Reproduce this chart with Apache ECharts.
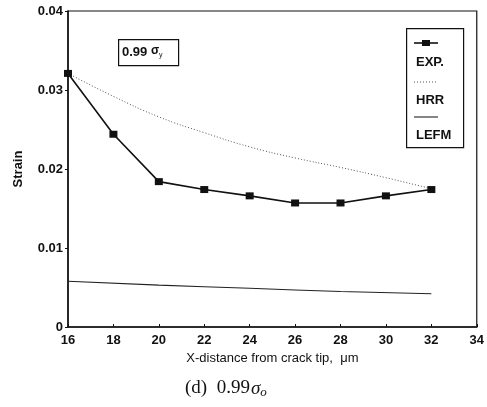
<!DOCTYPE html>
<html>
<head>
<meta charset="utf-8">
<script src="https://cdn.jsdelivr.net/npm/echarts@6/dist/echarts.min.js"></script>
<style>
  html, body { margin: 0; padding: 0; background: #fff; }
  #main { width: 487px; height: 407px; }
</style>
</head>
<body>
<div id="main"></div>
<script>
// x positions (distance from crack tip, um)
const xDist = [16, 18, 20, 22, 24, 26, 28, 30, 32];
// measured strain
const expStrain = [0.0321, 0.0244, 0.0184, 0.0174, 0.0166, 0.0157, 0.0157, 0.0166, 0.0174];
// HRR prediction
const hrrStrain = [0.0321, 0.0292, 0.0266, 0.0246, 0.0228, 0.0214, 0.0202, 0.0189, 0.0175];
// LEFM prediction
const lefmX = [16, 20, 24, 28, 32];
const lefmStrain = [0.0058, 0.0053, 0.0049, 0.0045, 0.0042];

const zip = (a, b) => a.map((v, i) => [v, b[i]]);
const font = 'Liberation Sans, Arial, sans-serif';
const serif = 'Liberation Serif, Times New Roman, serif';

const chart = echarts.init(document.getElementById('main'), null, { renderer: 'canvas' });

chart.setOption({
  animation: false,
  backgroundColor: '#fff',
  grid: {
    left: 68, right: 9, top: 11, bottom: 80,
    show: true, borderColor: '#111', borderWidth: 1.2
  },
  xAxis: {
    type: 'value', min: 16, max: 34, interval: 2,
    name: 'X-distance from crack tip,  μm',
    nameLocation: 'middle', nameGap: 25,
    nameTextStyle: { fontFamily: font, fontSize: 13, color: '#111' },
    axisLine: { lineStyle: { color: '#111', width: 1.5 } },
    axisTick: { inside: true, length: 3, lineStyle: { color: '#111' } },
    axisLabel: { fontFamily: font, fontSize: 13, fontWeight: 'bold', color: '#111', margin: 7 },
    splitLine: { show: false }
  },
  yAxis: {
    type: 'value', min: 0, max: 0.04, interval: 0.01,
    name: 'Strain',
    nameLocation: 'middle', nameGap: 43,
    nameTextStyle: { fontFamily: font, fontSize: 13, fontWeight: 'bold', color: '#111' },
    axisLine: { lineStyle: { color: '#111', width: 1.5 } },
    axisTick: { length: 3, lineStyle: { color: '#111' } },
    axisLabel: {
      fontFamily: font, fontSize: 13, fontWeight: 'bold', color: '#111', margin: 5,
      formatter: v => v === 0 ? '0' : v.toFixed(2)
    },
    splitLine: { show: false }
  },
  series: [
    {
      name: 'EXP.', type: 'line', data: zip(xDist, expStrain),
      symbol: 'rect', symbolSize: [8, 7],
      itemStyle: { color: '#111' },
      lineStyle: { color: '#111', width: 1.6 },
      z: 3
    },
    {
      name: 'HRR', type: 'line', data: zip(xDist, hrrStrain),
      smooth: true, showSymbol: false, symbol: 'none',
      lineStyle: { color: '#555', width: 1, type: [1, 2] }
    },
    {
      name: 'LEFM', type: 'line', data: zip(lefmX, lefmStrain),
      smooth: true, showSymbol: false, symbol: 'none',
      lineStyle: { color: '#222', width: 1.1 }
    }
  ],
  graphic: [
    // stress level box
    {
      type: 'rect', left: 118, top: 39,
      shape: { width: 60, height: 26 },
      style: { fill: '#fff', stroke: '#111', lineWidth: 1.2 }
    },
    {
      type: 'text', left: 122, top: 45,
      style: {
        text: '{a|0.99 }{s|σ}{y|y}',
        rich: {
          a: { fontFamily: font, fontSize: 13, fontWeight: 'bold', fill: '#111' },
          s: { fontFamily: font, fontSize: 12, fontWeight: 'bold', fill: '#111', padding: [0, 0, 3, 0] },
          y: { fontFamily: font, fontSize: 7, fill: '#111', padding: [6, 0, 0, 0] }
        }
      }
    },
    // legend box
    {
      type: 'rect', left: 406, top: 28,
      shape: { width: 57, height: 119 },
      style: { fill: '#fff', stroke: '#111', lineWidth: 1.2 }
    },
    { type: 'line', shape: { x1: 414, y1: 43, x2: 438, y2: 43 }, style: { stroke: '#111', lineWidth: 1.6 } },
    { type: 'rect', left: 422, top: 40, shape: { width: 8, height: 6 }, style: { fill: '#111' } },
    { type: 'text', left: 416, top: 56, style: { text: 'EXP.', fontFamily: font, fontSize: 13, fontWeight: 'bold', fill: '#111' } },
    { type: 'line', shape: { x1: 414, y1: 82, x2: 438, y2: 82 }, style: { stroke: '#555', lineWidth: 1, lineDash: [1, 2] } },
    { type: 'text', left: 416, top: 94, style: { text: 'HRR', fontFamily: font, fontSize: 13, fontWeight: 'bold', fill: '#111' } },
    { type: 'line', shape: { x1: 414, y1: 117, x2: 438, y2: 117 }, style: { stroke: '#222', lineWidth: 1.1 } },
    { type: 'text', left: 416, top: 129, style: { text: 'LEFM', fontFamily: font, fontSize: 13, fontWeight: 'bold', fill: '#111' } },
    // caption
    {
      type: 'text', left: 185, top: 379,
      style: {
        text: '{a|(d)  0.99}{s|σ}{o|o}',
        rich: {
          a: { fontFamily: serif, fontSize: 19, fill: '#111' },
          s: { fontFamily: serif, fontStyle: 'italic', fontSize: 19, fill: '#111', padding: [0, 0, 0, 1] },
          o: { fontFamily: serif, fontStyle: 'italic', fontSize: 13, fill: '#111', padding: [8, 0, 0, 0] }
        }
      }
    }
  ]
});
</script>
</body>
</html>
